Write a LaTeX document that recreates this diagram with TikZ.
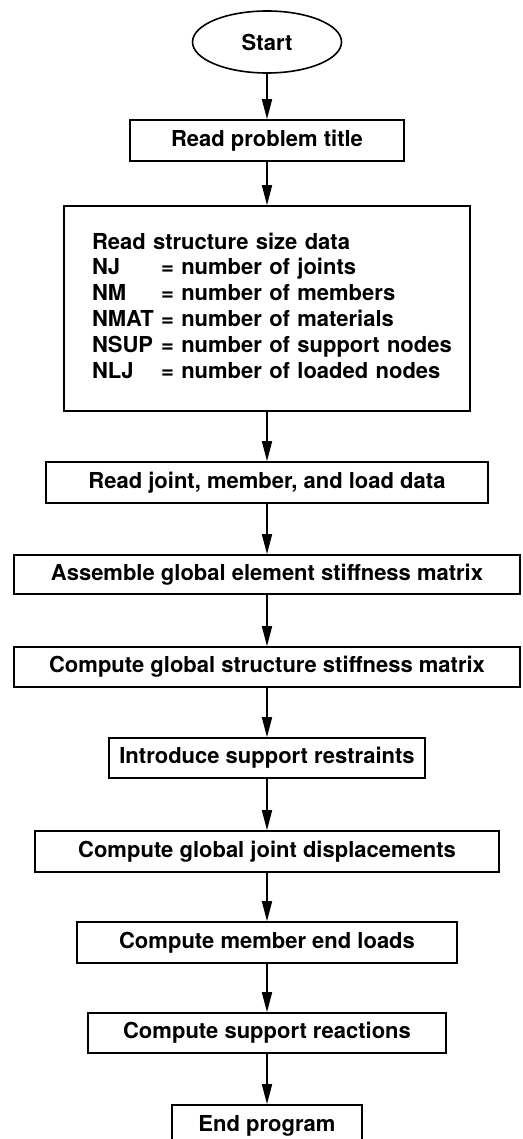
\documentclass[tikz,border=0pt]{standalone}
\usepackage{fontspec}
\setmainfont{TeX Gyre Heros}
\usetikzlibrary{arrows.meta,shapes.geometric}
\begin{document}
\begin{tikzpicture}[x=1pt,y=-1pt,
  every node/.style={font=\fontsize{22}{25.8}\selectfont\bfseries},
  stepbox/.style={draw,line width=1.6pt,rectangle,inner sep=0pt,minimum height=41pt},
  terminal/.style={draw,line width=1.6pt,ellipse,inner sep=0pt,minimum width=149pt,minimum height=62pt},
  flow/.style={line width=1.6pt,-{Triangle[length=20pt,width=10pt]}}]
\useasboundingbox (0,0) rectangle (522,1139);
\clip (0,0) rectangle (522,1139);

% program steps
\node[terminal] (start) at (267,42) {Start};
\node[stepbox,minimum width=274pt] (title) at (267,140.5) {Read problem title};
\node[stepbox,minimum height=205pt,inner xsep=28pt,text width=350pt,align=left] (size) at (267,308.5)
  {\begin{tabular}{@{}l@{\ }l@{}}
   \multicolumn{2}{@{}l@{}}{Read structure size data}\\
   NJ   & = number of joints\\
   NM   & = number of members\\
   NMAT & = number of materials\\
   NSUP & = number of support nodes\\
   NLJ  & = number of loaded nodes
   \end{tabular}};
\node[stepbox,minimum width=442pt] (data) at (267,482.5) {Read joint, member, and load data};
\node[stepbox,minimum width=506pt,minimum height=39pt] (assemble) at (267,574.5) {Assemble global element stiffness matrix};
\node[stepbox,minimum width=506pt,minimum height=40pt] (stiff) at (267,667) {Compute global structure stiffness matrix};
\node[stepbox,minimum width=316pt,minimum height=40pt] (restr) at (267,758) {Introduce support restraints};
\node[stepbox,minimum width=464pt] (disp) at (267,851.5) {Compute global joint displacements};
\node[stepbox,minimum width=380pt] (loads) at (267,942.5) {Compute member end loads};
\node[stepbox,minimum width=358pt,minimum height=40pt] (react) at (267,1033) {Compute support reactions};
\node[stepbox,minimum width=190pt] (stop) at (267,1125.5) {End program};

% flow of control
\draw[flow] (start.south) -- (title.north);
\draw[flow] (title.south) -- (size.north);
\draw[flow] (size.south) -- (data.north);
\draw[flow] (data.south) -- (assemble.north);
\draw[flow] (assemble.south) -- (stiff.north);
\draw[flow] (stiff.south) -- (restr.north);
\draw[flow] (restr.south) -- (disp.north);
\draw[flow] (disp.south) -- (loads.north);
\draw[flow] (loads.south) -- (react.north);
\draw[flow] (react.south) -- (stop.north);
\end{tikzpicture}
\end{document}
